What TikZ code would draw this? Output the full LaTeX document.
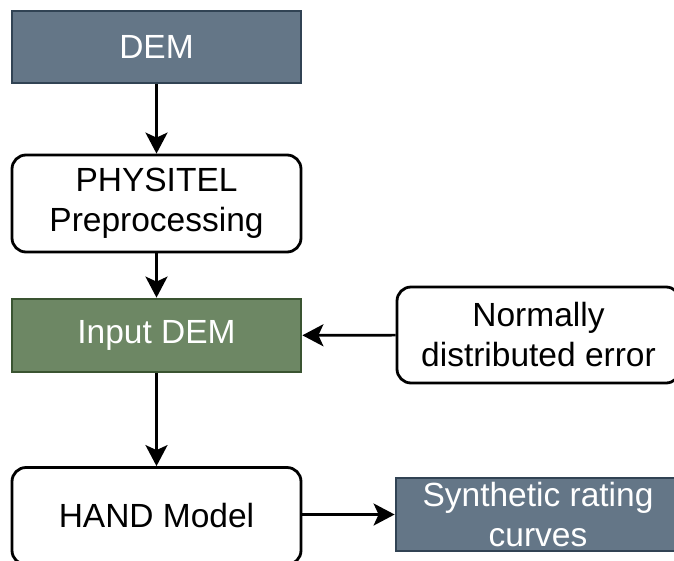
\documentclass[tikz,border=0pt]{standalone}
\usepackage{fontspec}
\setmainfont{Liberation Sans}
\usetikzlibrary{arrows.meta}

\definecolor{slatefill}{HTML}{647687}
\definecolor{slatedraw}{HTML}{314354}
\definecolor{greenfill}{HTML}{6D8764}
\definecolor{greendraw}{HTML}{3A5431}

\tikzset{
  box/.style={draw, line width=2.8pt, inner sep=0pt, align=center,
    font=\fontsize{33.5}{40}\selectfont},
  whitebox/.style={box, draw=black, fill=white, rounded corners=14pt, text=black},
  slatebox/.style={box, draw=slatedraw, fill=slatefill, text=white},
  greenbox/.style={box, draw=greendraw, fill=greenfill, text=white},
  flow/.style={line width=2.6pt, -{Stealth[length=21pt,width=22pt,inset=5pt]}}
}

\begin{document}
\begin{tikzpicture}[x=1pt,y=-1pt]
  \useasboundingbox (0,0) rectangle (674,560);
  \clip (0,0) rectangle (674,560);

  \node[slatebox, minimum width=289pt, minimum height=72pt] (dem) at (156.5,47) {DEM};
  \node[whitebox, minimum width=289pt, minimum height=97pt] (phys) at (156.5,203.5) {PHYSITEL\\Preprocessing};
  \node[greenbox, minimum width=289pt, minimum height=73pt] (input) at (156.5,335.5) {Input DEM};
  \node[whitebox, minimum width=283pt, minimum height=96pt] (err) at (538.5,335) {Normally\\distributed error};
  \node[whitebox, minimum width=289pt, minimum height=97pt] (hand) at (156.5,516) {HAND Model};
  \node[slatebox, minimum width=284pt, minimum height=73pt] (src) at (538,514.5) {Synthetic rating\\curves};

  \draw[flow] (dem) -- (phys);
  \draw[flow] (phys) -- (input);
  \draw[flow] (err) -- (input);
  \draw[flow] (input) -- (hand);
  \draw[flow] (hand.east |- src.west) -- (src.west);
\end{tikzpicture}
\end{document}
